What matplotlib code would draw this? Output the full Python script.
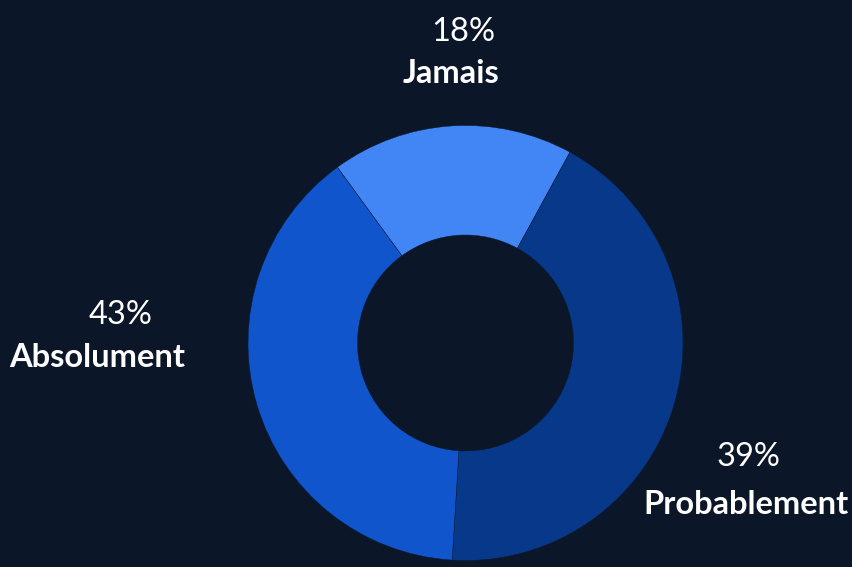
import matplotlib
matplotlib.use("Agg")
import matplotlib.pyplot as plt

# Data
categories = ["Jamais", "Probablement", "Absolument"]
pct_labels = ["18%", "39%", "43%"]
slice_values = [18, 43, 39]          # angular extent as drawn in the reference
colors = ["#4286f5", "#083889", "#1055cc"]
bg = "#0b1728"

W, H = 852, 567
fig = plt.figure(figsize=(W / 100, H / 100), dpi=100, facecolor=bg)
ax = fig.add_axes([0, 0, 1, 1])
ax.set_facecolor(bg)

cx, cy = 465.5, H - 343
R = 217.5
ax.pie(slice_values, colors=colors, startangle=126.1, counterclock=False,
       center=(cx, cy), radius=R, frame=True,
       wedgeprops=dict(width=R - 108, linewidth=0.3, edgecolor=bg))
ax.set_xlim(0, W)
ax.set_ylim(0, H)
ax.set_aspect("equal")
ax.axis("off")

# label positions (pixel, top-left origin): (pct x, pct baseline, name x, name baseline)
label_pos = [(463, 41, 451, 83), (748, 466, 746, 514), (121, 324, 97.5, 367)]
for name, pct, (px, py, nx, ny) in zip(categories, pct_labels, label_pos):
    ax.text(px, H - py, pct, color="white", fontsize=23.5, family="Lato",
            ha="center", va="baseline")
    ax.text(nx, H - ny, name, color="white", fontsize=23.5, family="Lato",
            fontweight="bold", ha="center", va="baseline")

fig.savefig("out.png", dpi=100, facecolor=bg)
